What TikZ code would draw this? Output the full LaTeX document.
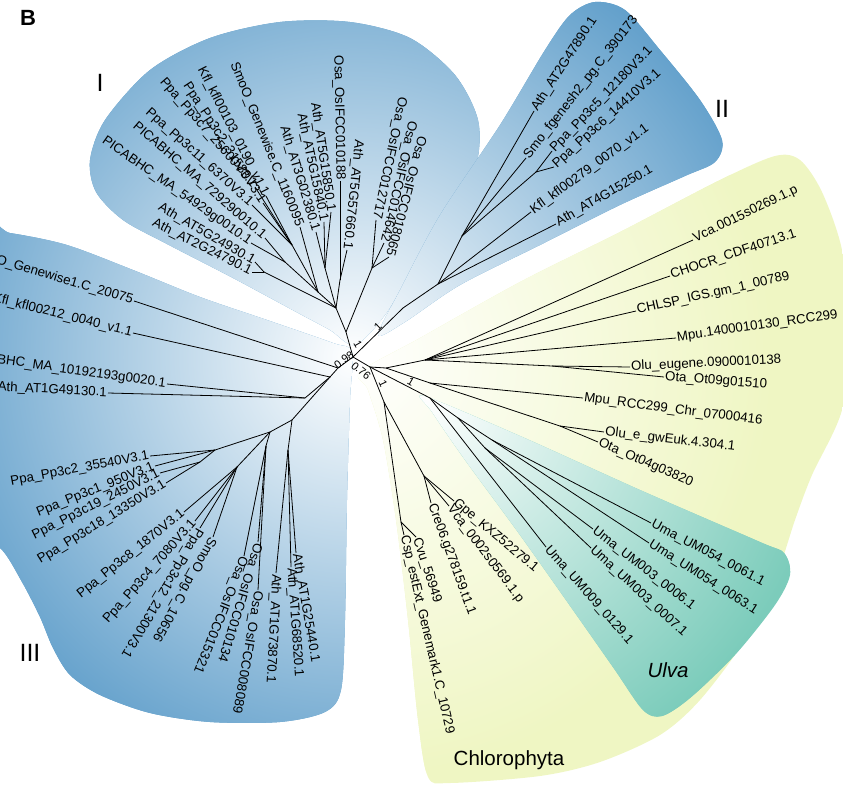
\documentclass[tikz,border=0pt]{standalone}
\usepackage{fontspec}
\setmainfont{Liberation Sans}
\definecolor{cblue}{RGB}{92,156,201}
\definecolor{cteal}{RGB}{124,204,187}
\definecolor{cyel}{RGB}{239,246,195}
\tikzset{
  br/.style={draw=black,line width=0.8pt},
  lbl/.style={font=\fontsize{13.3}{15}\selectfont,inner sep=1pt},
  supp/.style={font=\fontsize{11}{12}\selectfont,inner sep=0pt},
  big/.style={font=\fontsize{25}{28}\selectfont,inner sep=0pt},
  grp/.style={font=\fontsize{20.5}{24}\selectfont,inner sep=0pt}
}
\newcommand{\lf}[6]{%
  \coordinate (#1) at (#3);
  \draw[br] (#2) -- (#1);
  \node[lbl,anchor=#5,rotate=#4] (#1t) at (#1) {#6};}
\newcommand{\inn}[3]{%
  \coordinate (#1) at (#3);
  \draw[br] (#2) -- (#1);}
\begin{document}
\begin{tikzpicture}[x=1pt,y=-1pt]
\useasboundingbox (0,0) rectangle (843,798);
\clip (0,0) rectangle (843,798);
\coordinate (C) at (353,357);
\coordinate (UC) at (428,396);
% ---------- backgrounds ----------
\begin{scope}
\clip plot[smooth cycle] coordinates {(360,372) (420,338) (520,282) (620,232) (720,180) (775,156) (800,160) (822,192) (842,250) (850,330) (842,410) (812,475) (795,520) (775,580) (745,640) (700,700) (660,735) (600,762) (540,776) (450,783) (428,777) (418,720) (408,620) (396,520) (383,440) (368,390)};
\fill[cyel] (0,0) rectangle (843,798);
\shade[inner color=white,outer color=cyel] (C) circle (420pt);
\end{scope}
\begin{scope}
\clip plot[smooth cycle] coordinates {(424,396) (520,436) (640,490) (760,542) (784,553) (790,575) (775,605) (735,655) (690,698) (662,716) (643,710) (615,670) (580,620) (520,535) (465,460) (432,412)};
\fill[cteal] (0,0) rectangle (843,798);
\shade[inner color=white,outer color=cteal] (UC) circle (400pt);
\end{scope}
\begin{scope}
\clip plot[smooth cycle] coordinates {(355,345) (330,330) (300,314) (233,278) (167,244) (123,220) (96,192) (90,160) (105,120) (150,70) (210,38) (280,22) (350,22) (410,38) (455,75) (478,120) (476,165) (450,210) (415,265) (385,315)};
\fill[cblue] (0,0) rectangle (843,798);
\shade[inner color=white,outer color=cblue] (C) circle (460pt);
\end{scope}
\begin{scope}
\clip plot[smooth cycle] coordinates {(378,335) (400,290) (440,215) (500,125) (545,50) (570,15) (595,2) (625,10) (660,50) (700,100) (722,140) (715,162) (685,176) (620,205) (540,245) (460,285) (405,322)};
\fill[cblue] (0,0) rectangle (843,798);
\shade[inner color=white,outer color=cblue] (C) circle (460pt);
\end{scope}
\begin{scope}
\clip plot[smooth cycle] coordinates {(352,352) (333,343) (267,320) (200,297) (133,270) (67,245) (10,233) (-30,230) (-30,540) (0,548) (22,582) (40,617) (53,648) (70,675) (100,695) (150,713) (210,722) (280,722) (325,712) (341,690) (345,620) (347,500) (350,400)};
\fill[cblue] (0,0) rectangle (843,798);
\shade[inner color=white,outer color=cblue] (C) circle (460pt);
\end{scope}
% ---------- backbone ----------
\inn{I0}{C}{346,332}
\inn{II0}{C}{403,308}
\inn{III0}{C}{338,368}
\inn{CH}{C}{370,367}
% ---------- clade I ----------
\inn{Iosa}{I0}{372,268}
\inn{I1}{I0}{336,308}
\inn{Ib5}{I1}{340,280}
\inn{Iath}{I1}{325,268}
\inn{Ia}{I1}{318,292}
\inn{Ib}{Ia}{292,245}
\inn{Ipic}{Ia}{285,262}
\inn{Ipair}{I1}{264,272}
\lf{Kfl103}{Ib}{266,196}{-63}{east}{Kfl\_kfl00103\_0190\_v1.1}
\lf{SmoOgw}{Ia}{300,227}{-68}{east}{SmoO\_Genewise.C\_1160095}
\lf{Ppa3c2}{Ib}{263,203}{-57}{east}{Ppa\_Pp3c2\_31580V3.1}
\lf{Ppa3c7}{Ib}{255,187}{-49}{east}{Ppa\_Pp3c7\_25600V3.1}
\lf{Ppa3c11}{Ib}{252,205}{-42}{east}{Ppa\_Pp3c11\_6370V3.1}
\lf{PIC7292}{Ipic}{265,238}{-41}{east}{PICABHC\_MA\_729290010.1}
\lf{PIC5492}{Ipic}{251,243}{-35}{east}{PICABHC\_MA\_54929g0010.1}
\lf{AT5G24930}{Ipair}{255,262}{-30}{east}{Ath\_AT5G24930.1}
\lf{AT2G24790}{Ipair}{252,272}{-26.5}{east}{Ath\_AT2G24790.1}
\lf{AT3G02380}{Iath}{316,232}{-73}{east}{Ath\_AT3G02380.1}
\lf{AT5G15840}{Iath}{324,222}{-78}{east}{Ath\_AT5G15840.1}
\lf{AT5G15850}{Iath}{331,212}{-81.5}{east}{Ath\_AT5G15850.1}
\lf{Osa010188}{Ib5}{340,181}{-89}{east}{Osa\_OsIFCC010188}
\lf{AT5G57660}{Ib5}{347,250}{-96}{east}{Ath\_AT5G57660.1}
\lf{Osa012717}{Iosa}{376,220}{-102}{east}{Osa\_OsIFCC012717}
\lf{Osa014642}{Iosa}{384,243}{-103}{east}{Osa\_OsIFCC014642}
\lf{Osa018065}{Iosa}{389,257}{-105}{east}{Osa\_OsIFCC018065}
% ---------- clade II ----------
\inn{II1}{II0}{438,284}
\inn{II2}{II1}{462,236}
\inn{II3}{II2}{536,172}
\lf{AT2G47890}{II2}{534,111}{57}{west}{Ath\_AT2G47890.1}
\lf{Smofg}{II2}{526,158}{52}{west}{Smo\_fgenesh2\_pg.C\_390173}
\lf{Ppa3c5}{II3}{552,151}{46}{west}{Ppa\_Pp3c5\_12180V3.1}
\lf{Ppa3c6}{II3}{554,167}{42}{west}{Ppa\_Pp3c6\_14410V3.1}
\lf{Kfl279}{II1}{531,212}{36}{west}{Kfl\_kfl00279\_0070\_v1.1}
\lf{AT4G15250}{II1}{556,224}{30}{west}{Ath\_AT4G15250.1}
% ---------- clade III ----------
\inn{III1}{III0}{330,377}
\inn{IIIp}{III1}{305,398}
\inn{III3}{III1}{292,420}
\inn{IIIath}{III3}{288,450}
\inn{III4}{III3}{270,432}
\inn{IIIosa}{III4}{266,446}
\inn{IIIppaA}{III4}{215,450}
\inn{IIIppaB}{IIIppaA}{200,462}
\inn{IIIppaC}{III4}{237,467}
\lf{Genew1}{III0}{134,301}{-16.5}{east}{SmoO\_Genewise1.C\_20075}
\lf{Kfl212}{III1}{133,333}{-14}{east}{Kfl\_kfl00212\_0040\_v1.1}
\lf{PIC1019}{IIIp}{167,384}{-8}{east}{PICABHC\_MA\_10192193g0020.1}
\lf{AT1G49130}{IIIp}{108,393}{-3}{east}{Ath\_AT1G49130.1}
\lf{Ppa35540}{IIIppaA}{150,456}{10.6}{east}{Ppa\_Pp3c2\_35540V3.1}
\lf{Ppa950}{IIIppaA}{155,466}{22}{east}{Ppa\_Pp3c1\_950V3.1}
\lf{Ppa2450}{IIIppaB}{160,473}{26.5}{east}{Ppa\_Pp3c19\_2450V3.1}
\lf{Ppa13350}{IIIppaB}{166,483}{31.6}{east}{Ppa\_Pp3c18\_13350V3.1}
\lf{Ppa1870}{IIIppaC}{184,512}{38.6}{east}{Ppa\_Pp3c8\_1870V3.1}
\lf{Ppa7080}{IIIppaC}{195,521}{48.5}{east}{Ppa\_Pp3c4\_7080V3.1}
\lf{Ppa21300}{IIIppaC}{200,528}{-120.6}{west}{Ppa\_Pp3c12\_21300V3.1}
\lf{SmoOpg}{IIIppaC}{213,537}{-119}{west}{SmoO\_pg.C\_10656}
\lf{Osa010134}{IIIosa}{258,542}{-107}{west}{Osa\_OsIFCC010134}
\lf{Osa015321}{IIIosa}{244,556}{-112}{west}{Osa\_OsIFCC015321}
\lf{Osa008089}{IIIosa}{258,590}{-100}{west}{Osa\_OsIFCC008089}
\lf{AT1G25440}{IIIath}{296,553}{-80}{west}{Ath\_AT1G25440.1}
\lf{AT1G68520}{IIIath}{291,567}{-86}{west}{Ath\_AT1G68520.1}
\lf{AT1G73870}{IIIath}{276,573}{-93}{west}{Ath\_AT1G73870.1}
% ---------- Chlorophyta ----------
\inn{R0}{CH}{386,368}
\inn{R1}{R0}{425,360}
\inn{R2}{R0}{430,383}
\inn{Rolu1}{R1}{552,366}
\inn{Rolu2}{R2}{560,426}
\lf{Vca15}{R1}{693,240}{26}{west}{Vca.0015s0269.1.p}
\lf{CHOCR}{R1}{670,276}{18.6}{west}{CHOCR\_CDF40713.1}
\lf{CHLSP}{R1}{636,311}{12.7}{west}{CHLSP\_IGS.gm\_1\_00789}
\lf{Mpu14}{R1}{676,338}{8}{west}{Mpu.1400010130\_RCC299}
\lf{Olueug}{Rolu1}{630,367}{2.7}{west}{Olu\_eugene.0900010138}
\lf{Ota09}{Rolu1}{664,377}{-4.5}{west}{Ota\_Ot09g01510}
\lf{MpuChr}{R2}{583,398}{-7.4}{west}{Mpu\_RCC299\_Chr\_07000416}
\lf{Olue}{Rolu2}{604,432}{-6.6}{west}{Olu\_e\_gwEuk.4.304.1}
\lf{Ota04}{Rolu2}{598,442}{-24}{west}{Ota\_Ot04g03820}
% Ulva
\inn{U0}{CH}{430,398}
\inn{U1}{U0}{458,418}
\inn{Ua}{U1}{492,440}
\inn{Ub}{U1}{485,448}
\lf{Uma0061}{Ua}{651,523}{-28}{west}{Uma\_UM054\_0061.1}
\lf{Uma0063}{Ua}{649,543}{-32.7}{west}{Uma\_UM054\_0063.1}
\lf{Uma0006}{Ub}{593,529}{-38}{west}{Uma\_UM003\_0006.1}
\lf{Uma0007}{Ub}{591,548}{-42.5}{west}{Uma\_UM003\_0007.1}
\lf{Uma0129}{U0}{546,547}{-48.5}{west}{Uma\_UM009\_0129.1}
% bottom group
\inn{B0}{CH}{384,402}
\inn{Bcre}{B0}{424,476}
\inn{Bcc}{B0}{401,522}
\lf{Gpe}{Bcre}{454,501}{-40}{west}{Gpe\_KXZ52279.1}
\lf{Vca0002}{Bcre}{449,506}{-53}{west}{Vca\_0002s0569.1.p}
\lf{Cre06}{Bcre}{431,503}{-70}{west}{Cre06.g278159.t1.1}
\lf{Cvu}{Bcc}{416,537}{-72}{west}{Cvu\_56949}
\lf{Csp}{Bcc}{404,535}{-77}{west}{Csp\_estExt\_Genemark1.C\_10729}
% ---------- support values ----------
\node[supp,rotate=-60] (s1) at (358,344) {1};
\node[supp,rotate=44] (s2) at (378,327) {1};
\node[supp,rotate=36] (s3) at (344,360) {0.98};
\node[supp,rotate=-40] (s4) at (361,371) {0.76};
\node[supp,rotate=-65] (s5) at (383,384) {1};
\node[supp,rotate=-30] (s6) at (411,382) {1};
% ---------- group labels ----------
\node[font=\fontsize{22}{24}\selectfont\bfseries,inner sep=0pt] (lab) at (28,18) {B};
\node[big] (gI) at (100,83) {I};
\node[big] (gII) at (722,109) {II};
\node[big] (gIII) at (30,653) {III};
\node[grp] (gCh) at (509,760) {Chlorophyta};
\node[grp,font=\fontsize{20.5}{24}\selectfont\itshape] (gU) at (668,670) {Ulva};
\end{tikzpicture}
\end{document}
